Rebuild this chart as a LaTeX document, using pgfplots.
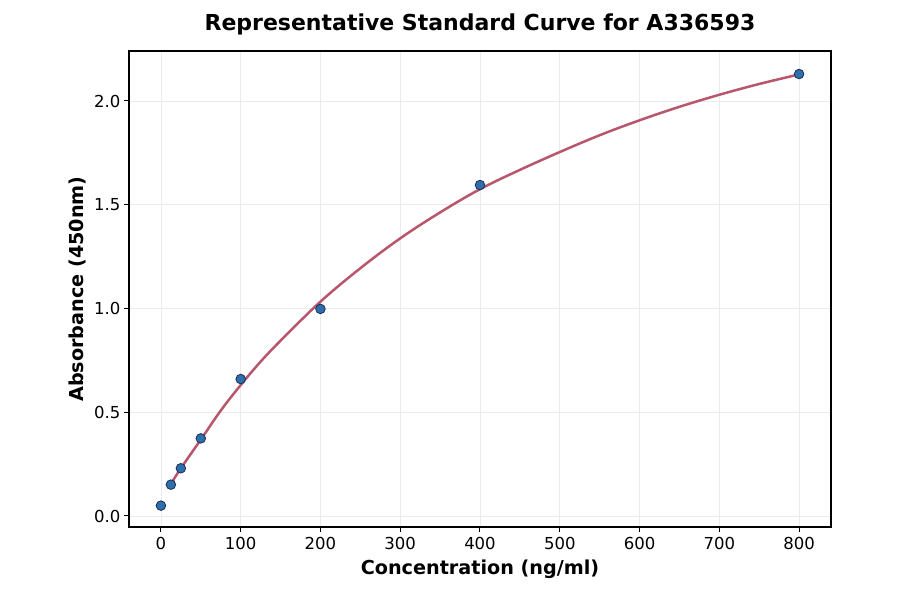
\documentclass[border=0pt]{standalone}
\usepackage{pgfplots}
\pgfplotsset{compat=1.18}
\usepackage{fontspec}
\setmainfont{DejaVu Sans}
\definecolor{ptfill}{HTML}{2E6EAA}
\definecolor{ptedge}{HTML}{1A2F55}
\definecolor{curve}{HTML}{B8566B}
\definecolor{gridc}{HTML}{EBEBEB}
\begin{document}
\begin{tikzpicture}[x=1pt,y=1pt]
\path[use as bounding box] (0,0) rectangle (900,594);
\begin{axis}[
  at={(129pt,67pt)}, anchor=south west,
  scale only axis, width=702pt, height=476pt,
  xmin=-40, xmax=840, ymin=-0.053, ymax=2.241,
  xtick={0,100,...,800}, ytick={0,0.5,1,1.5,2},
  yticklabel style={/pgf/number format/.cd,fixed,fixed zerofill,precision=1},
  /pgf/number format/assume math mode=true,
  tick label style={font=\fontsize{16.5}{19}\selectfont},
  xticklabel style={yshift=-2pt},
  tick align=outside, tick pos=left,
  major tick length=5pt,
  every tick/.style={black, line width=1pt},
  axis line style={line width=1.2pt},
  grid=major, grid style={gridc, line width=0.6pt},
  xlabel={Concentration (ng/ml)},
  ylabel={Absorbance (450nm)},
  label style={font=\bfseries\fontsize{19.2}{22}\selectfont},
  xlabel style={yshift=-3pt},
  ylabel style={yshift=1pt},
  title={Representative Standard Curve for A336593},
  title style={font=\bfseries\fontsize{22}{26}\selectfont, yshift=6pt},
  clip=false,
]
\addplot[curve, line width=2.5pt, smooth, tension=0.6] coordinates {
(12.5,0.154) (25,0.230) (50,0.368) (75,0.508) (100,0.631) (125,0.744)
(150,0.845) (200,1.033) (250,1.194) (300,1.338) (350,1.463) (400,1.575)
(450,1.668) (500,1.754) (550,1.835) (600,1.907) (650,1.972) (700,2.030)
(750,2.082) (800,2.128)
};
\addplot[only marks, mark=*, mark size=4.8pt,
  mark options={fill=ptfill, draw=ptedge, line width=0.8pt}] coordinates {
(0,0.05) (12.5,0.151) (25,0.230) (50,0.374) (100,0.660) (200,0.998) (400,1.595) (800,2.130)
};
\end{axis}
\end{tikzpicture}
\end{document}
